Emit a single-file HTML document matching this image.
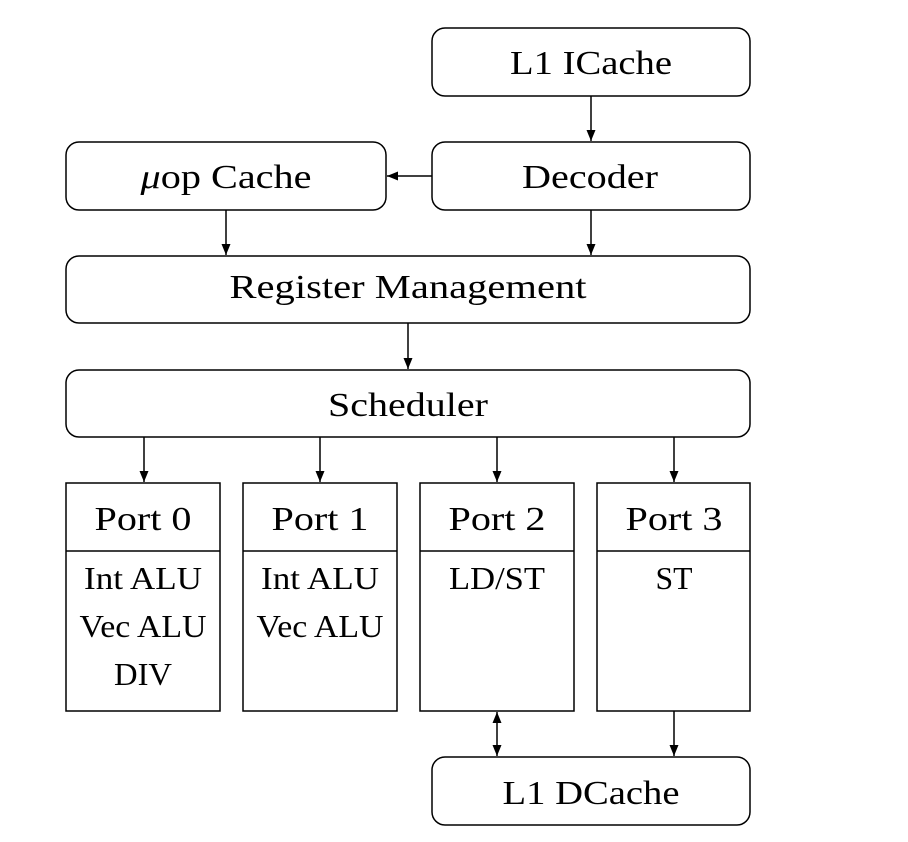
<!DOCTYPE html>
<html><head><meta charset="utf-8"><style>
html,body{margin:0;padding:0;background:#fff;}
svg{display:block;}
text{font-family:"Liberation Serif",serif;font-size:34px;fill:#000;text-anchor:middle;}
.s{font-size:32px;}
</style></head><body>
<svg width="908" height="842" viewBox="0 0 908 842" xmlns="http://www.w3.org/2000/svg">
<defs><marker id="a" markerWidth="12" markerHeight="12" refX="11" refY="6" orient="auto" markerUnits="userSpaceOnUse"><path d="M0,1.5 L11,6 L0,10.5 Z" fill="#000"/></marker>
<marker id="b" markerWidth="12" markerHeight="12" refX="1" refY="6" orient="auto" markerUnits="userSpaceOnUse"><path d="M12,1.5 L1,6 L12,10.5 Z" fill="#000"/></marker></defs>
<g fill="none" stroke="#000" stroke-width="1.5">
<rect x="432" y="28" width="318" height="68" rx="13"/>
<rect x="432" y="142" width="318" height="68" rx="13"/>
<rect x="66" y="142" width="320" height="68" rx="13"/>
<rect x="66" y="256" width="684" height="67" rx="13"/>
<rect x="66" y="370" width="684" height="67" rx="13"/>
<rect x="66" y="483" width="154" height="228"/><line x1="66" y1="551" x2="220" y2="551"/>
<rect x="243" y="483" width="154" height="228"/><line x1="243" y1="551" x2="397" y2="551"/>
<rect x="420" y="483" width="154" height="228"/><line x1="420" y1="551" x2="574" y2="551"/>
<rect x="597" y="483" width="153" height="228"/><line x1="597" y1="551" x2="750" y2="551"/>
<rect x="432" y="757" width="318" height="68" rx="13"/>
</g>
<g stroke="#000" stroke-width="1.5" marker-end="url(#a)">
<line x1="591" y1="96" x2="591" y2="141"/>
<line x1="432" y1="176" x2="387" y2="176"/>
<line x1="226" y1="210" x2="226" y2="255"/>
<line x1="591" y1="210" x2="591" y2="255"/>
<line x1="408" y1="323" x2="408" y2="369"/>
<line x1="144" y1="437" x2="144" y2="482"/>
<line x1="320" y1="437" x2="320" y2="482"/>
<line x1="497" y1="437" x2="497" y2="482"/>
<line x1="674" y1="437" x2="674" y2="482"/>
<line x1="674" y1="711" x2="674" y2="756"/>
<line x1="497" y1="712" x2="497" y2="756" marker-start="url(#b)"/>
</g>
<g lengthAdjust="spacingAndGlyphs">
<text x="591" y="74" textLength="162" lengthAdjust="spacingAndGlyphs">L1 ICache</text>
<text x="590" y="188" textLength="136" lengthAdjust="spacingAndGlyphs">Decoder</text>
<text x="226" y="188" textLength="171" lengthAdjust="spacingAndGlyphs"><tspan font-style="italic">μ</tspan>op Cache</text>
<text x="408" y="298" textLength="357" lengthAdjust="spacingAndGlyphs">Register Management</text>
<text x="408" y="416" textLength="160" lengthAdjust="spacingAndGlyphs">Scheduler</text>
<text x="143" y="530" textLength="97" lengthAdjust="spacingAndGlyphs">Port 0</text>
<text x="320" y="530" textLength="97" lengthAdjust="spacingAndGlyphs">Port 1</text>
<text x="497" y="530" textLength="97" lengthAdjust="spacingAndGlyphs">Port 2</text>
<text x="674" y="530" textLength="97" lengthAdjust="spacingAndGlyphs">Port 3</text>
<text class="s" x="143" y="589" textLength="118" lengthAdjust="spacingAndGlyphs">Int ALU</text>
<text class="s" x="143" y="637" textLength="127" lengthAdjust="spacingAndGlyphs">Vec ALU</text>
<text class="s" x="143" y="685" textLength="58" lengthAdjust="spacingAndGlyphs">DIV</text>
<text class="s" x="320" y="589" textLength="118" lengthAdjust="spacingAndGlyphs">Int ALU</text>
<text class="s" x="320" y="637" textLength="127" lengthAdjust="spacingAndGlyphs">Vec ALU</text>
<text class="s" x="497" y="589" textLength="96" lengthAdjust="spacingAndGlyphs">LD/ST</text>
<text class="s" x="674" y="589" textLength="37" lengthAdjust="spacingAndGlyphs">ST</text>
<text x="591" y="804" textLength="177" lengthAdjust="spacingAndGlyphs">L1 DCache</text>
</g>
</svg>
</body></html>
